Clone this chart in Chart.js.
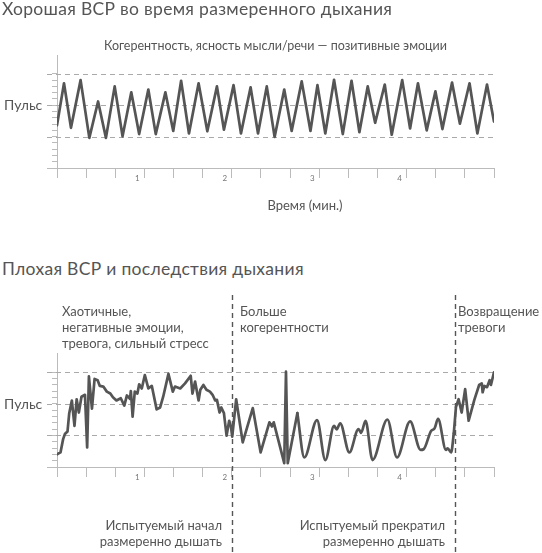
<!DOCTYPE html>
<html><head><meta charset="utf-8">
<script src="https://cdn.jsdelivr.net/npm/chart.js@4.4.0/dist/chart.umd.min.js"></script>
<style>
html,body{margin:0;padding:0;background:#fff;}
body{width:542px;height:553px;position:relative;overflow:hidden;font-family:Lato,sans-serif;color:#555;}
canvas{position:absolute;left:0;}
.t{position:absolute;white-space:pre;color:#555;}
</style></head><body>
<canvas id="c1" width="542" height="200" style="top:0px"></canvas>
<canvas id="c2" width="542" height="263" style="top:290px"></canvas>
<script>
// ---- data ----
const goodTime = [0,0.08,0.16,0.27,0.37,0.47,0.56,0.66,0.75,0.85,0.94,1.045,1.13,1.24,1.33,1.42,1.51,1.62,1.72,1.83,1.91,2.02,2.105,2.215,2.30,2.40,2.49,2.60,2.685,2.80,2.90,2.98,3.07,3.17,3.27,3.37,3.46,3.555,3.64,3.75,3.83,3.95,4.04,4.13,4.23,4.33,4.41,4.52,4.61,4.72,4.81,4.92,5.0];
const goodPulse = [6.8,13.5,6.4,14.0,4.8,10.6,4.8,13.0,5.05,12.05,5.4,12.5,5.4,12.05,5.9,13.9,5.5,13.5,5.85,13.0,6.1,13.2,5.5,12.85,5.5,13.0,4.95,12.5,5.9,13.8,5.9,13.2,5.5,14.05,5.4,13.9,5.7,13.0,7.2,13.3,5.3,14.0,6.3,13.5,6.0,12.2,6.2,13.6,7.05,13.5,5.5,13.3,7.4];
const badTime = [0,0.04,0.07,0.09,0.12,0.14,0.17,0.20,0.225,0.25,0.28,0.32,0.345,0.365,0.40,0.43,0.465,0.49,0.53,0.57,0.61,0.64,0.68,0.73,0.77,0.80,0.835,0.845,0.865,0.89,0.92,0.94,0.97,1.005,1.045,1.085,1.14,1.18,1.215,1.275,1.325,1.35,1.41,1.465,1.53,1.55,1.58,1.62,1.64,1.675,1.71,1.75,1.78,1.81,1.83,1.86,1.88,1.91,1.94,1.97,1.99,2.005,2.05,2.125,2.24,2.33,2.43,2.46,2.48,2.60,2.62,2.64,2.75,2.83,2.975,3.07,3.17,3.20,3.24,3.345,3.45,3.48,3.53,3.61,3.78,3.89,4.04,4.16,4.195,4.28,4.32,4.36,4.45,4.47,4.51,4.54,4.565,4.595,4.63,4.67,4.71,4.775,4.83,4.86,4.87,4.89,4.92,4.95,4.965,5.0];
const badPulse = [2.0,2.3,4.4,5.2,5.6,8.5,10.5,6.5,10.7,8.6,11.1,11.4,3.1,14.3,9.2,13.9,13.7,12.8,12.7,11.9,11.6,11.0,10.5,10.85,9.7,11.3,10.75,12.0,7.95,11.9,11.6,13.05,12.4,14.5,12.4,12.8,9.1,9.4,11.1,14.7,11.9,12.7,12.4,13.2,14.4,11.6,13.5,10.5,12.2,12.95,12.2,11.9,11.4,10.5,10.6,8.6,9.4,8.5,4.95,7.3,6.4,4.8,10.7,3.9,9.3,2.3,7.05,6.4,7.05,0.6,15.05,0.6,8.5,1.5,7.4,1.1,6.5,5.95,6.9,2.3,6.0,5.4,7.3,1.1,7.5,1.5,7.2,2.7,2.8,5.7,6.1,7.6,2.7,2.95,2.3,5.3,9.5,10.7,8.6,12.3,7.3,10.6,12.95,13.2,11.8,12.8,12.6,13.7,12.95,14.95];
const minuteLabels = ['1','2','3','4'];
const timeTicks = [0,1/3,2/3,1,4/3,5/3,2,7/3,8/3,3,10/3,11/3,4,13/3,14/3,5];
const pulseTicks = [0,1,2,3,4,5,6,7,8,9,10,11,12,13,14,15];
const refLevels = [5,10,15];
const breathStart = 2.0;
const breathStop = 4.55;
const coherentFrom = 2.75;
const coherentTo = 4.54;

// ---- helpers ----
Chart.defaults.font.family = 'Lato, sans-serif';
const LINE = '#555';
const AXIS = '#bbb';

function pts(ts, vs, from, to){
  const out = [];
  ts.forEach((t,i)=>{ if (t>=from-1e-9 && t<=to+1e-9) out.push({x:t,y:vs[i]}); });
  return out;
}
function ds(data, smooth){
  return {data, borderColor:LINE, borderWidth:2.7, pointRadius:0, fill:false,
    tension: smooth?0.4:0, cubicInterpolationMode: smooth?'monotone':'default',
    borderJoinStyle:'round', borderCapStyle:'round'};
}
function labelFor(v){
  const m = Math.round(v);
  if (Math.abs(v-m)<1e-6 && m>=1 && m<=4) return minuteLabels[m-1];
  return '';
}
const refPlugin = {
  id:'ref',
  beforeDatasetsDraw(chart, args, opts){
    const {ctx, chartArea:a, scales:{x,y}} = chart;
    ctx.save();
    ctx.strokeStyle = '#aaa'; ctx.lineWidth = 1; ctx.setLineDash([5,4]);
    refLevels.forEach(v=>{
      const py = Math.round(y.getPixelForValue(v))+0.5;
      ctx.beginPath(); ctx.moveTo(a.left-10,py); ctx.lineTo(a.right,py); ctx.stroke();
    });
    ctx.setLineDash([]); ctx.strokeStyle = AXIS;
    const p0 = Math.round(y.getPixelForValue(0))+0.5;
    ctx.beginPath(); ctx.moveTo(a.left-10,p0); ctx.lineTo(a.left,p0); ctx.stroke();
    (opts.vlines||[]).forEach(v=>{
      const px = Math.round(x.getPixelForValue(v))+0.5;
      ctx.strokeStyle = '#555'; ctx.lineWidth = 1.4; ctx.setLineDash([5,4]);
      ctx.beginPath(); ctx.moveTo(px,opts.vTop); ctx.lineTo(px,chart.height); ctx.stroke();
    });
    ctx.restore();
  }
};
function makeChart(id, datasets, padTop, xH, vlines, vTop){
  return new Chart(document.getElementById(id), {
    type:'line',
    data:{datasets},
    plugins:[refPlugin],
    options:{
      responsive:false, animation:false, devicePixelRatio:1,
      layout:{padding:{left:0,right:48,top:padTop,bottom:0}},
      plugins:{legend:{display:false}, tooltip:{enabled:false}, ref:{vlines, vTop}},
      scales:{
        x:{type:'linear', min:0, max:5,
          afterBuildTicks: s=>{ s.ticks = timeTicks.map(v=>({value:v})); },
          afterFit: s=>{ s.height = xH; },
          ticks:{callback:(v)=>labelFor(v), font:{size:8}, color:'#777', padding:-4, labelOffset:-7, maxRotation:0, autoSkip:false},
          grid:{drawOnChartArea:false, drawTicks:true, tickLength:10, color:AXIS, lineWidth:1},
          border:{display:true, color:AXIS, width:1}
        },
        y:{type:'linear', min:0, max:18,
          afterBuildTicks: s=>{ s.ticks = pulseTicks.map(v=>({value:v})); },
          afterFit: s=>{ s.width = 57; },
          ticks:{display:false},
          grid:{drawOnChartArea:false, drawTicks:true, tickLength:5, color:AXIS, lineWidth:1},
          border:{display:true, color:AXIS, width:1}
        }
      }
    }
  });
}

makeChart('c1', [ds(pts(goodTime, goodPulse, 0, 5), false)], 55, 32, [], 0);
makeChart('c2', [
  ds(pts(badTime, badPulse, 0, coherentFrom), false),
  ds(pts(badTime, badPulse, coherentFrom, coherentTo), true),
  ds(pts(badTime, badPulse, coherentTo, 5), false)
], 63, 86, [breathStart, breathStop], 5);

// ---- texts ----
function txt(s, x, base, size, align, lh, ls){
  lh = lh || Math.round(size*1.2);
  const d = document.createElement('div');
  d.className = 't';
  d.textContent = s;
  d.style.fontSize = size+'px';
  d.style.lineHeight = lh+'px';
  if (ls) d.style.letterSpacing = ls+'px';
  const top = base - ((lh - 1.2*size)/2 + 0.987*size);
  d.style.top = top+'px';
  if (align==='right'){ d.style.right = (542-x)+'px'; d.style.textAlign='right'; }
  else if (align==='center'){ d.style.left = x+'px'; d.style.transform='translateX(-50%)'; d.style.textAlign='center'; }
  else { d.style.left = x+'px'; }
  document.body.appendChild(d);
}
txt('Хорошая ВСР во время размеренного дыхания', 2, 15, 17.5, 'left', 21, 0.3);
txt('Когерентность, ясность мысли/речи — позитивные эмоции', 275.5, 50, 12.5, 'center');
txt('Пульс', 4, 109.5, 14);
txt('Время (мин.)', 305, 210, 13, 'center');
txt('Плохая ВСР и последствия дыхания', 2, 275, 17.5, 'left', 21, 0.3);
txt('Хаотичные,\nнегативные эмоции,\nтревога, сильный стресс', 62, 316, 13, 'left', 16);
txt('Больше\nкогерентности', 240, 316, 13, 'left', 16);
txt('Возвращение\nтревоги', 458, 316, 13, 'left', 16);
txt('Пульс', 4, 408.5, 14);
txt('Испытуемый начал\nразмеренно дышать', 222, 530, 13, 'right', 16.5);
txt('Испытуемый прекратил\nразмеренно дышать', 445, 530, 13, 'right', 16.5);
</script>
</body></html>
